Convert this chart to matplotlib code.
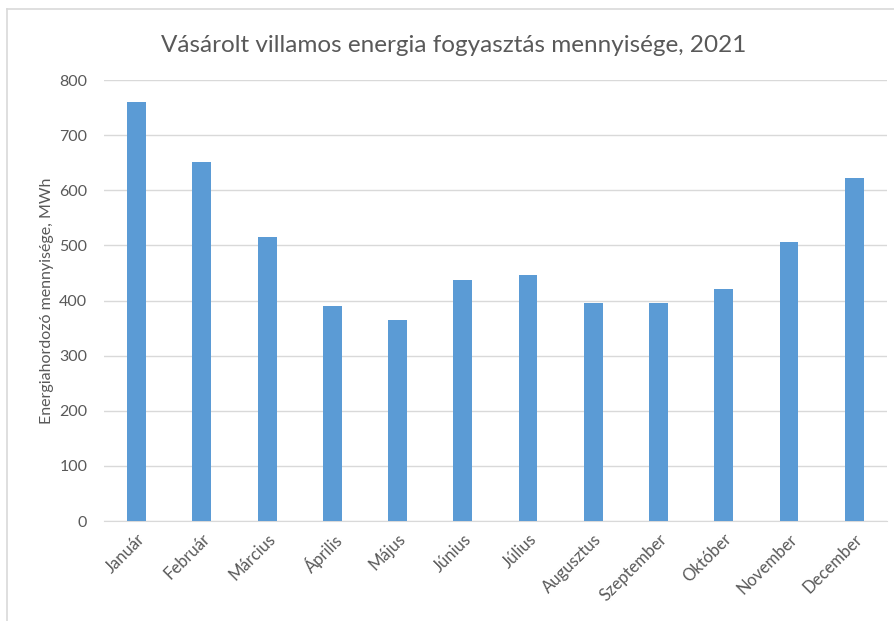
import numpy as np
import matplotlib
matplotlib.use('Agg')
import matplotlib.pyplot as plt
from matplotlib.lines import Line2D

months = ['Január', 'Február', 'Március', 'Április', 'Május', 'Június',
          'Július', 'Augusztus', 'Szeptember', 'Október', 'November', 'December']
values = [760, 651, 515, 390, 365, 437, 446, 395, 395, 421, 506, 623]
yticks = [0, 100, 200, 300, 400, 500, 600, 700, 800]

plt.rcParams['font.family'] = ['Lato', 'DejaVu Sans']
grey = '#595959'

fig = plt.figure(figsize=(8.94, 6.21), dpi=100)
ax = fig.add_axes((0.1163, 0.161, 0.8757, 0.71))

x = np.arange(len(months))
ax.bar(x, values, width=0.29, color='#5B9BD5', zorder=3)

ax.set_xlim(-0.5, len(months) - 0.5)
ax.set_ylim(0, 800)
ax.set_yticks(yticks)
ax.set_yticklabels([str(t) for t in yticks], fontsize=11.5, color=grey)
ax.set_xticks(x)
ax.set_xticklabels(months, fontsize=12, color=grey, rotation=45,
                   ha='right', rotation_mode='anchor')
ax.tick_params(axis='both', length=0)
ax.tick_params(axis='y', pad=12)
ax.tick_params(axis='x', pad=7)

ax.grid(axis='y', color='#d9d9d9', lw=1, zorder=0)
for s in ['top', 'right', 'left']:
    ax.spines[s].set_visible(False)
ax.spines['bottom'].set_color('#d9d9d9')

ax.set_ylabel('Energiahordozó mennyisége, MWh', fontsize=11.5, color=grey, labelpad=4)
fig.text(0.508, 0.927, 'Vásárolt villamos energia fogyasztás mennyisége, 2021',
         fontsize=17.5, color=grey, ha='center', va='center')

# chart frame (only left and top edges visible in the crop)
fig.add_artist(Line2D([7 / 894, 7 / 894], [0, 1 - 9 / 621], color='#d9d9d9', lw=1.2))
fig.add_artist(Line2D([7 / 894, 1], [1 - 9 / 621, 1 - 9 / 621], color='#d9d9d9', lw=1.2))

fig.savefig('out.png', dpi=100)
